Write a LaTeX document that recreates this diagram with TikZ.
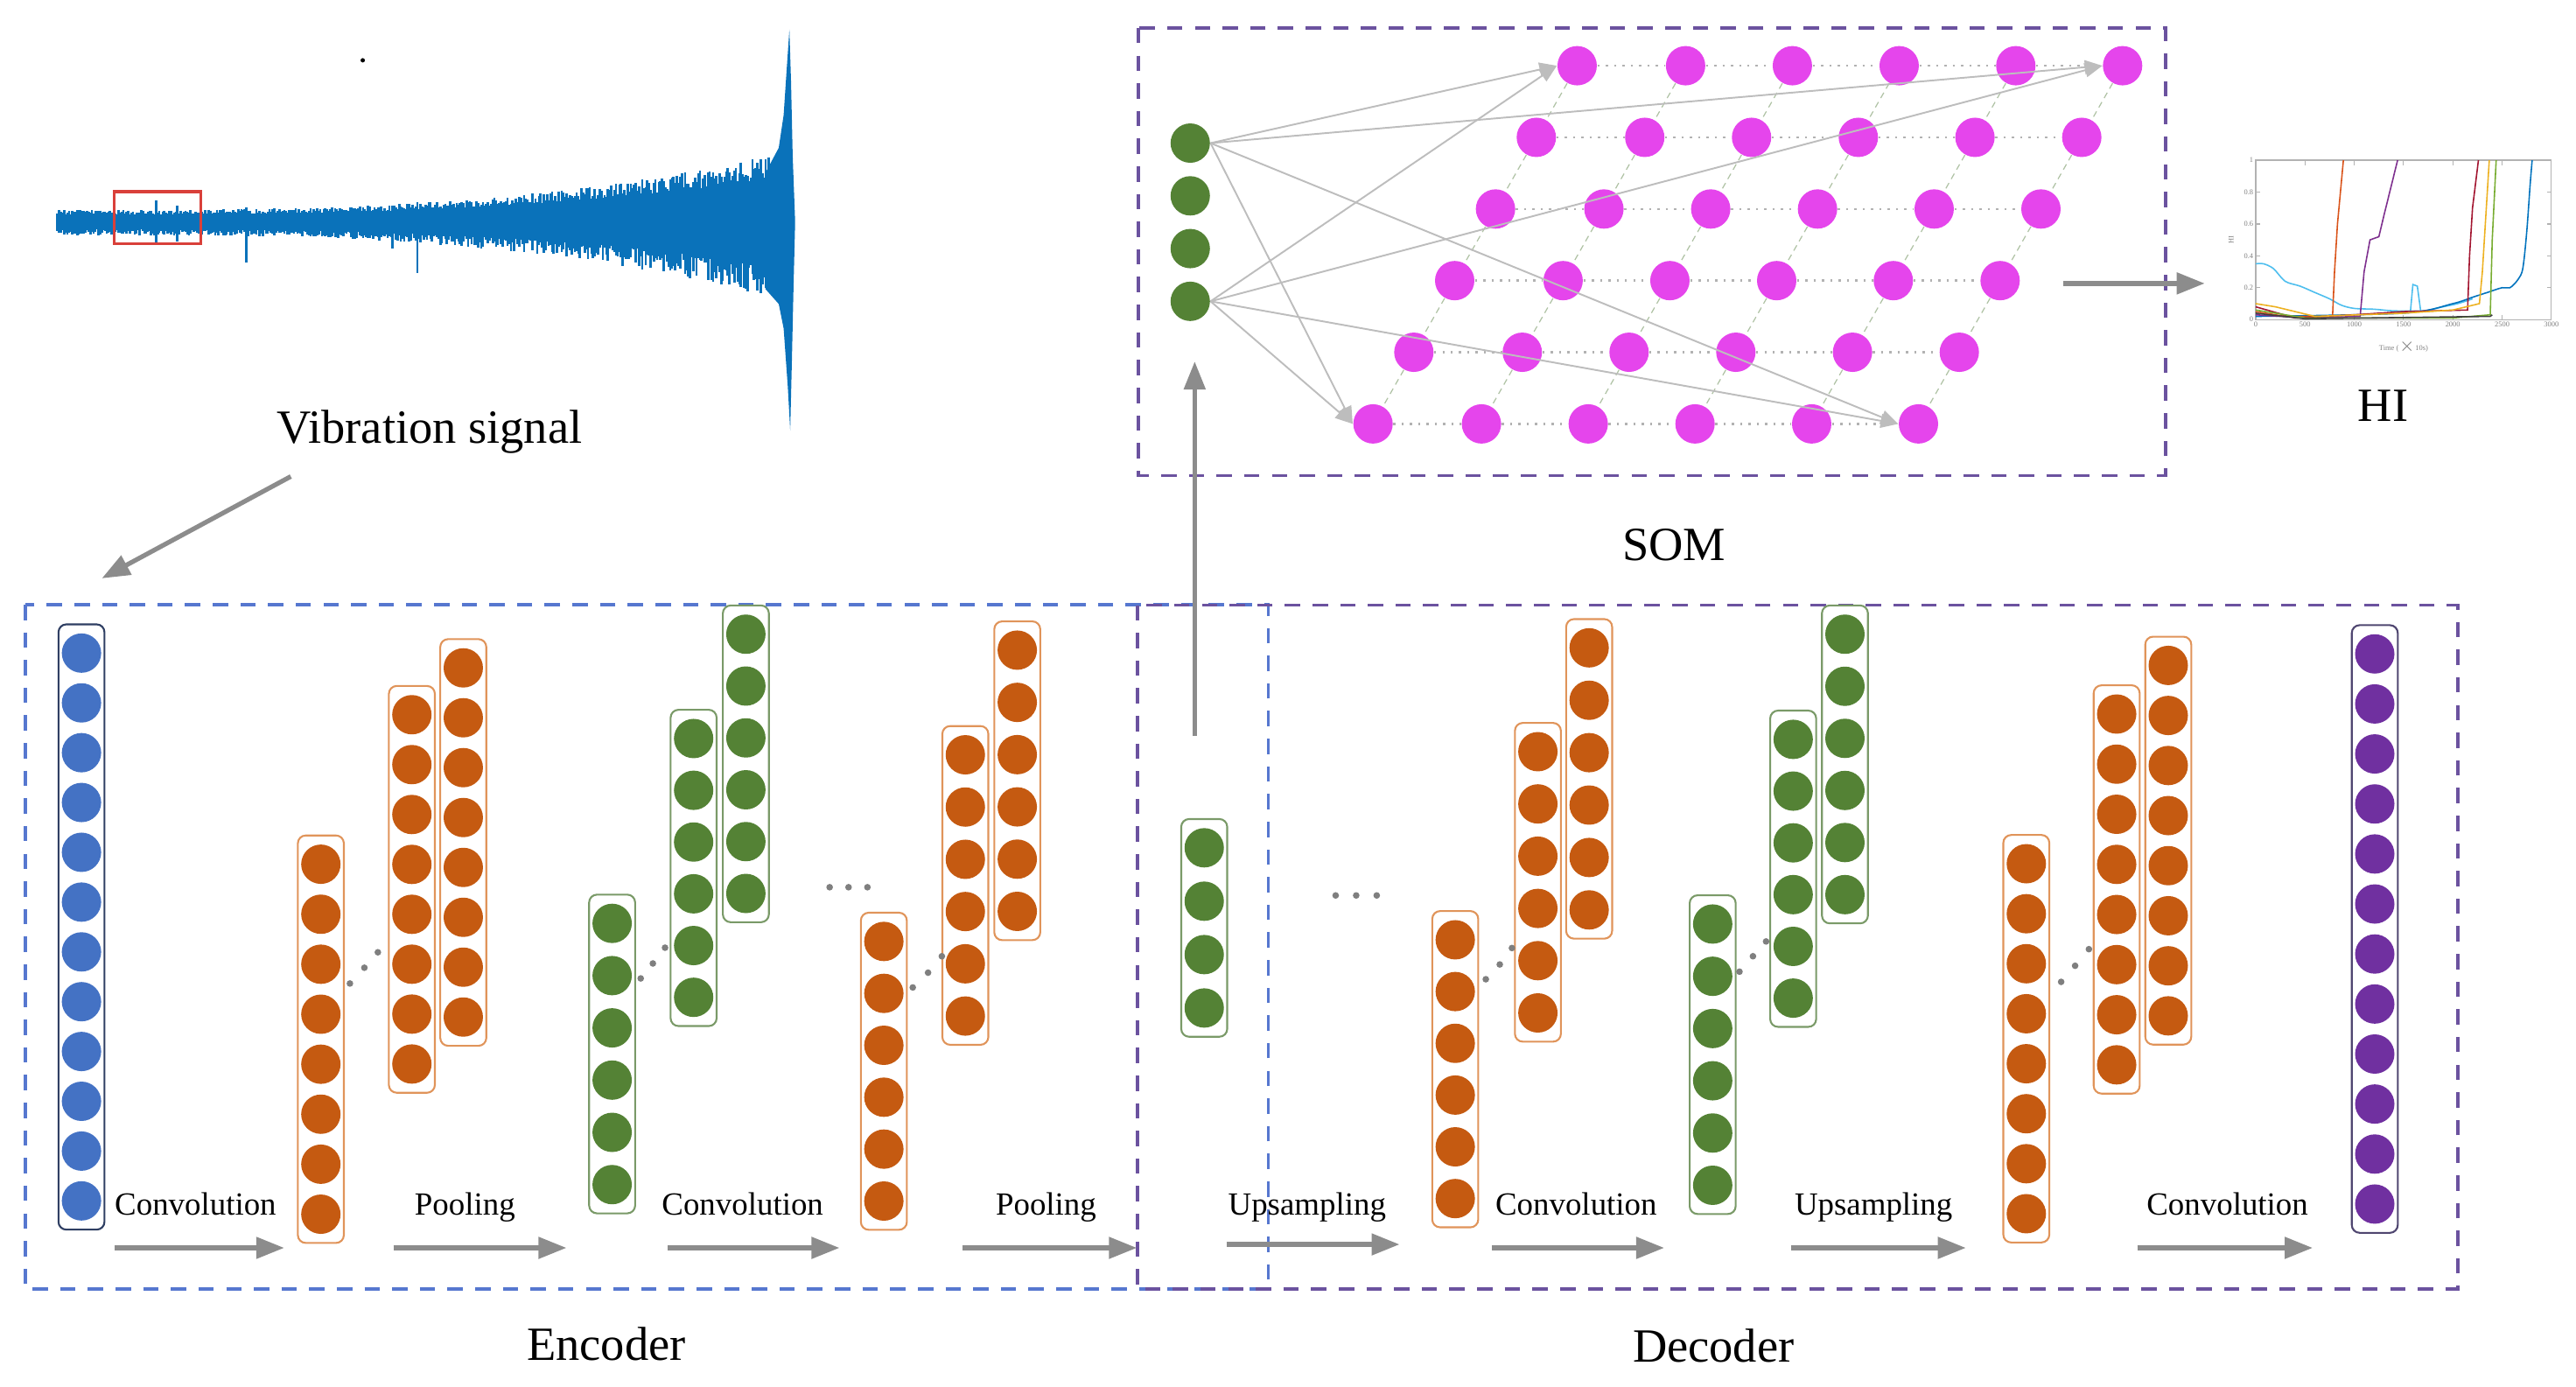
\documentclass[tikz,border=0pt]{standalone}
\usepackage{fontspec}
\setmainfont{Liberation Serif}
\usepackage{xcolor}
\usepackage{tikz}
\usetikzlibrary{arrows.meta,positioning}
\definecolor{cblue}{HTML}{4472C4}
\definecolor{corange}{HTML}{C55A11}
\definecolor{cgreen}{HTML}{548235}
\definecolor{cpurple}{HTML}{7030A0}
\definecolor{cmagenta}{HTML}{E545EC}
\definecolor{bdblue}{HTML}{2F3F63}
\definecolor{bdorange}{HTML}{E0945A}
\definecolor{bdgreen}{HTML}{7A9A68}
\definecolor{bdpurple}{HTML}{4F4670}
\definecolor{encline}{HTML}{5677CF}
\definecolor{decline}{HTML}{6B529F}
\definecolor{flowgray}{HTML}{8C8C8C}
\definecolor{linkgray}{HTML}{BDBDBD}
\definecolor{dotgray}{HTML}{7F7F7F}
\definecolor{sigblue}{HTML}{0A72BA}
\definecolor{boxred}{HTML}{D9403A}
\definecolor{mblue}{HTML}{0072BD}
\definecolor{mcyan}{HTML}{4DBEEE}
\definecolor{morange}{HTML}{D95319}
\definecolor{mpurple}{HTML}{7E2F8E}
\definecolor{mred}{HTML}{A2142F}
\definecolor{myellow}{HTML}{EDB120}
\definecolor{mgreen}{HTML}{77AC30}
\tikzset{
  unit/.style={circle, inner sep=0pt, minimum size=4.5mm, draw=none},
  somu/.style={unit, fill=cmagenta},
  colbox/.style={line width=0.6pt, rounded corners=0.9mm},
  flow/.style={draw=flowgray, line width=1.5pt, -{Triangle[length=3.2mm,width=2.4mm]}},
  link/.style={draw=linkgray, line width=0.55pt, -{Triangle[length=2mm,width=1.6mm]}},
  rowln/.style={draw=gray!60, line width=0.7pt, dotted},
  colln/.style={draw=bdgreen!60, line width=0.35pt, dash pattern=on 2pt off 1.5pt},
  encbox/.style={draw=encline, line width=1.1pt, dash pattern=on 5pt off 4pt},
  decbox/.style={draw=decline, line width=1.1pt, dash pattern=on 5pt off 4pt},
  lab/.style={font=\fontsize{10.5}{12}\selectfont, anchor=base, inner sep=0pt},
  biglab/.style={font=\fontsize{15.5}{18}\selectfont, anchor=base, inner sep=0pt},
  sig/.style={draw=sigblue, line width=0.75pt},
  hiframe/.style={draw=gray!60, line width=0.35pt},
  hic/.style={line width=0.45pt},
  ticklab/.style={font=\fontsize{2.4}{3}\selectfont, text=gray, inner sep=0.6pt},
}
% one layer: name, x, y of first unit, units, spacing, fill, border
\newcommand{\unitcol}[7]{%
  \draw[colbox, draw=#7] ({#2-14},{#3-17.5}) rectangle ({#2+14},{#3+(#4-1)*#5+17.5});
  \foreach \k in {1,...,#4}
    \node[unit, fill=#6] (#1-\k) at (#2,{#3+(\k-1)*#5}) {};
}

\begin{document}
\begin{tikzpicture}[x=0.018776cm, y=-0.018776cm]
\useasboundingbox (0,0) rectangle (1568,844);

% vibration signal
\pgfmathsetseed{3}
\foreach \x in {35,...,469}{
  \pgfmathsetmacro{\amp}{6.5+31*((\x-35)/435)^3}
  \pgfmathsetmacro{\up}{\amp*(0.7+0.4*rnd)}
  \pgfmathsetmacro{\dn}{\amp*(0.7+0.55*rnd)}
  \draw[sig] (\x,135-\up) -- (\x,135+\dn);
}
\draw[sig] (95,122) -- (95,149);
\draw[sig] (108,125) -- (108,147);
\draw[sig] (150,126) -- (150,160);
\draw[sig] (254,123) -- (254,166);
\draw[sig] (239,125) -- (239,151);
\fill[sigblue] (466,105) -- (474,90) -- (477,70) -- (479,40) -- (480.5,18) -- (481.5,50)
  -- (482.5,95) -- (484,135) -- (483,175) -- (482,220) -- (481,262) -- (479.5,235)
  -- (477,200) -- (474,185) -- (466,176) -- cycle;
\draw[draw=boxred, line width=0.9pt] (69.6,116.6) rectangle (122.3,148.4);
\fill (220.8,36.7) circle (0.25mm);
\node[biglab] (vib) at (261.5,270) {Vibration signal};

\coordinate (sigA) at (177,290);
\coordinate (sigB) at (62,352);
\draw[flow] (sigA) -- (sigB);

% SOM
\draw[decbox] (693,17) rectangle (1318,289.5);
\foreach \k in {1,...,4}
  \node[unit, fill=cgreen] (g\k) at (724.5,{87.1+(\k-1)*32.1}) {};
\foreach \r in {1,...,6}
  \foreach \c/\dx in {1/0,2/66,3/131,4/196,5/267,6/332}
    \node[somu] (s\r\c) at ({960-24.85*(\r-1)+\dx},{40+43.6*(\r-1)}) {};
\foreach \r in {1,...,6}
  \foreach \c/\n in {1/2,2/3,3/4,4/5,5/6}
    \draw[rowln] (s\r\c) -- (s\r\n);
\foreach \r/\n in {1/2,2/3,3/4,4/5,5/6}
  \foreach \c in {1,...,6}
    \draw[colln] (s\r\c) -- (s\n\c);
\foreach \g in {1,4}
  \foreach \t in {11,16,61,66}
    \draw[link] (g\g.east) -- (s\t.west);
\node[biglab] (som) at (1019,341) {SOM};

\coordinate (somA) at (1256,172.5);
\coordinate (somB) at (1342,172.5);
\draw[flow] (somA) -- (somB);

% HI curves
\begin{scope}[shift={(1373,194.5)}, xscale=0.06, yscale=-97]
\draw[hiframe] (0,0) rectangle (3000,1);
\foreach \t in {0,500,...,3000}{
  \draw[hiframe] (\t,0) -- (\t,0.03);
  \draw[hiframe] (\t,1) -- (\t,0.97);
  \node[ticklab, below] (xt\t) at (\t,0) {\t};
}
\foreach \t/\l/\i in {0/0/0,0.2/0.2/1,0.4/0.4/2,0.6/0.6/3,0.8/0.8/4,1/1/5}{
  \draw[hiframe] (0,\t) -- (45,\t);
  \draw[hiframe] (3000,\t) -- (2955,\t);
  \node[ticklab, left] (yt\i) at (0,\t) {\l};
}
\node[ticklab] (xlab) at (1500,-0.17) {Time ($\times$10s)};
\node[ticklab, rotate=90] (ylab) at (-250,0.5) {HI};
\draw[hic, draw=mcyan] plot[smooth] coordinates {(0,0.35) (80,0.35) (180,0.32) (300,0.24) (450,0.21) (600,0.17) (750,0.13) (870,0.09) (1000,0.07) (1200,0.065) (1400,0.055) (1700,0.055) (1900,0.08) (2050,0.1) (2200,0.13)};
\draw[hic, draw=mcyan] (1570,0.05) -- (1595,0.22) -- (1640,0.21) -- (1675,0.05);
\draw[hic, draw=mblue] plot[smooth] coordinates {(0,0.02) (1500,0.04) (2000,0.1) (2200,0.14) (2350,0.17) (2500,0.2) (2580,0.2) (2660,0.25) (2710,0.32) (2750,0.55) (2785,0.85) (2805,1)};
\draw[hic, draw=morange] (0,0.05) -- (300,0.02) -- (780,0.02) -- (800,0.3) -- (830,0.6) -- (890,1);
\draw[hic, draw=mpurple] (0,0.03) -- (500,0.01) -- (1060,0.02) -- (1100,0.3) -- (1160,0.5) -- (1250,0.52) -- (1300,0.65) -- (1440,1);
\draw[hic, draw=mred] (0,0.08) -- (400,0.01) -- (1000,0.03) -- (1500,0.05) -- (2150,0.06) -- (2170,0.4) -- (2200,0.7) -- (2260,1);
\draw[hic, draw=myellow] (0,0.1) -- (200,0.08) -- (600,0.02) -- (1500,0.04) -- (2000,0.06) -- (2270,0.1) -- (2300,0.3) -- (2340,0.7) -- (2370,1);
\draw[hic, draw=mgreen] (0,0.06) -- (500,0.01) -- (2000,0.01) -- (2380,0.03) -- (2400,0.5) -- (2440,1);
\draw[hic, draw=darkgray] (0,0.04) -- (500,0.005) -- (2380,0.02) -- (2400,0.03);
\end{scope}
\node[biglab] (hi) at (1450.5,256.7) {HI};

% encoder / decoder frames
\draw[encbox] (15.3,368) rectangle (772,784.5);
\draw[decbox] (692.2,368.3) rectangle (1496,784.5);

% layers
\unitcol{inp}{49.6}{397.5}{12}{30.31}{cblue}{bdblue}
\unitcol{ca}{195.3}{526}{8}{30.43}{corange}{bdorange}
\unitcol{cb}{250.7}{435}{8}{30.37}{corange}{bdorange}
\unitcol{cc}{282}{406.5}{8}{30.36}{corange}{bdorange}
\unitcol{pa}{372.6}{562}{6}{31.8}{cgreen}{bdgreen}
\unitcol{pb}{422.2}{449.5}{6}{31.5}{cgreen}{bdgreen}
\unitcol{pc}{454}{386}{6}{31.56}{cgreen}{bdgreen}
\unitcol{qa}{538}{573}{6}{31.6}{corange}{bdorange}
\unitcol{qb}{587.6}{459.4}{6}{31.8}{corange}{bdorange}
\unitcol{qc}{619.2}{395.7}{6}{31.8}{corange}{bdorange}
\unitcol{lat}{733}{516}{4}{32.5}{cgreen}{bdgreen}
\unitcol{ua}{885.8}{572}{6}{31.5}{corange}{bdorange}
\unitcol{ub}{936.1}{457.5}{6}{31.8}{corange}{bdorange}
\unitcol{uc}{967.3}{394.3}{6}{31.9}{corange}{bdorange}
\unitcol{va}{1042.5}{562.4}{6}{31.8}{cgreen}{bdgreen}
\unitcol{vb}{1091.5}{450}{6}{31.5}{cgreen}{bdgreen}
\unitcol{vc}{1123}{386}{6}{31.7}{cgreen}{bdgreen}
\unitcol{wa}{1233.4}{525.7}{8}{30.43}{corange}{bdorange}
\unitcol{wb}{1288.4}{434.6}{8}{30.5}{corange}{bdorange}
\unitcol{wc}{1319.8}{405}{8}{30.47}{corange}{bdorange}
\unitcol{out}{1445.5}{398}{12}{30.44}{cpurple}{bdpurple}

% dots between layers
\foreach \x/\y in {213/598.6,221.8/589,230/579.6, 390/595.5,397.4/586.4,404.8/576.8,
  555.6/601,564.9/592,573.3/582, 904.4/596,912.9/587,920.3/577,
  1058.8/591.4,1067/582,1075/573, 1254.6/597.6,1263.1/587.8,1271.5/577.7,
  505/540,516.5/540,528/540, 813/545,825.5/545,838/545}
  \fill[dotgray] (\x,\y) circle (0.38mm);

% operations
\foreach \n/\x/\t in {1/119/Convolution, 2/283/Pooling, 3/452/Convolution, 4/636.7/Pooling,
  5/795.6/Upsampling, 6/959.4/Convolution, 7/1140.4/Upsampling, 8/1355.8/Convolution}
  \node[lab] (op\n) at (\x,739.5) {\t};
\foreach \n/\a/\b/\y in {1/70/173/759.5, 2/239.5/344.8/759.5, 3/406.6/511/759.5,
  4/586/692/759.5, 5/746.6/851.9/757.4, 6/908/1013/759.5, 7/1090/1196.6/759.5,
  8/1301/1407.7/759.5}{
  \coordinate (f\n a) at (\a,\y);
  \coordinate (f\n b) at (\b,\y);
  \draw[flow] (f\n a) -- (f\n b);
}

\coordinate (upA) at (727.2,448);
\coordinate (upB) at (727.2,220);
\draw[flow] (upA) -- (upB);

\node[biglab] (enc) at (369,828) {Encoder};
\node[biglab] (dec) at (1043,829) {Decoder};
\end{tikzpicture}
\end{document}
